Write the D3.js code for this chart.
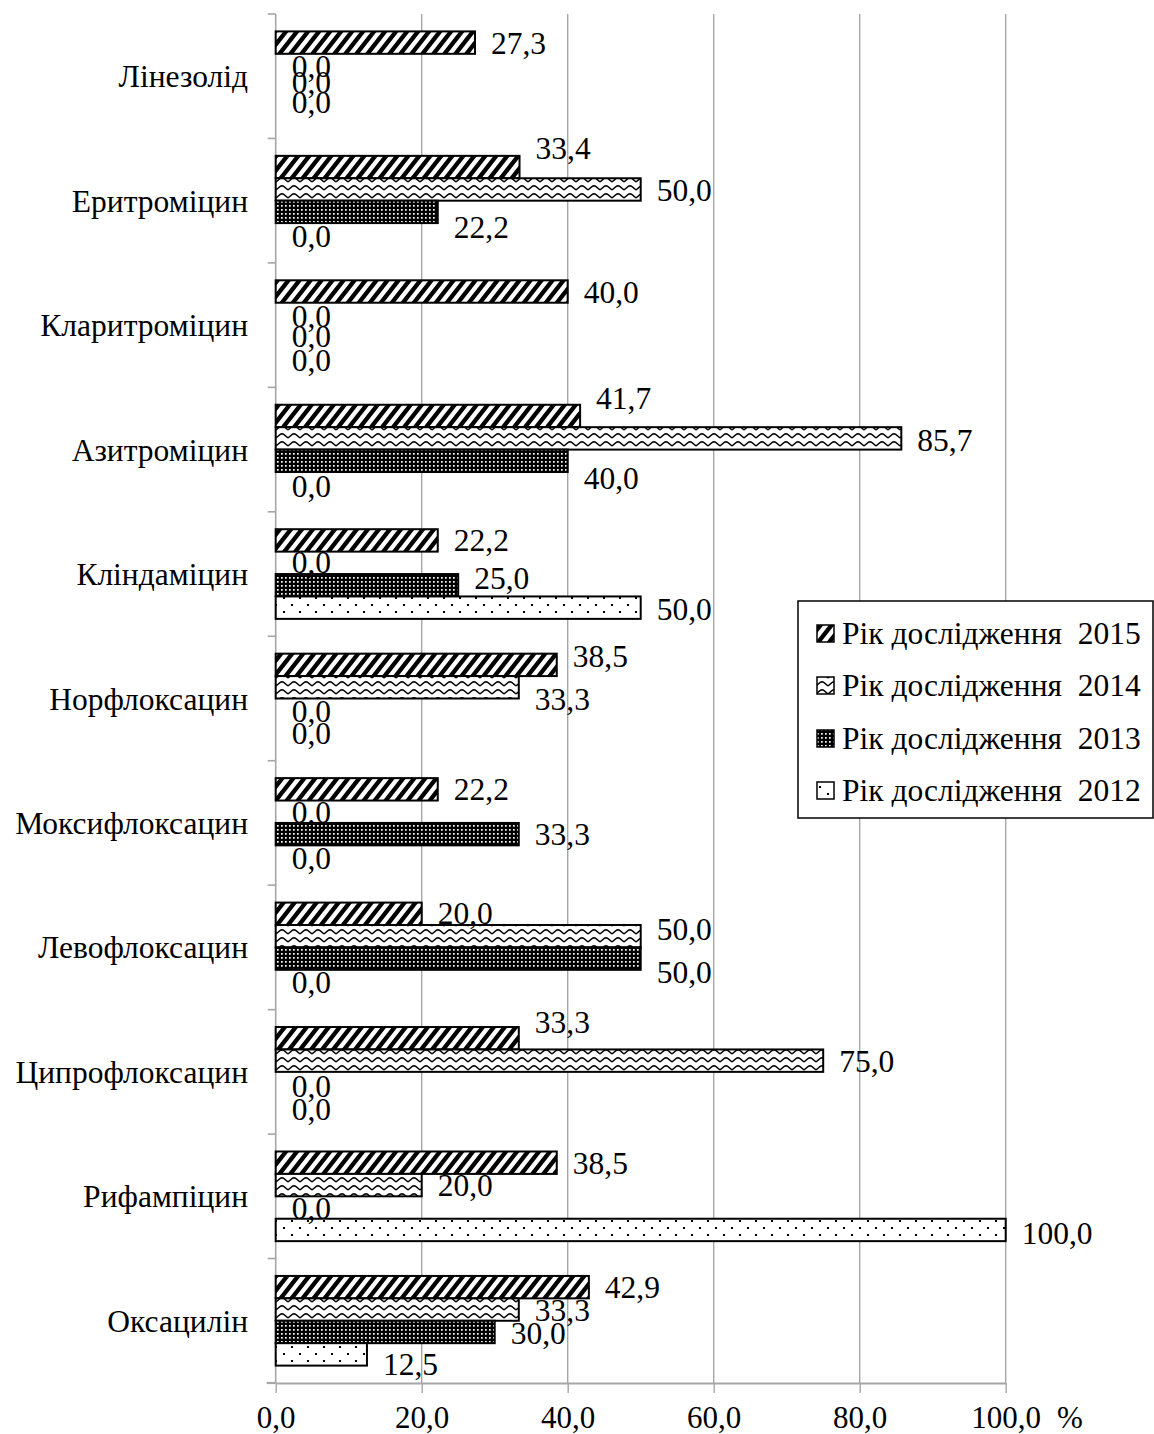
<!DOCTYPE html>
<html>
<head>
<meta charset="utf-8">
<script src="https://cdn.jsdelivr.net/npm/d3@7"></script>
<style>
  body { margin: 0; background: #fff; }
  svg { display: block; }
  text { font-family: "Liberation Serif", "Times New Roman", serif; fill: #000; }
</style>
</head>
<body>
<script>
// ---- data ----
const categories = ["Лінезолід","Еритроміцин","Кларитроміцин","Азитроміцин","Кліндаміцин",
  "Норфлоксацин","Моксифлоксацин","Левофлоксацин","Ципрофлоксацин","Рифампіцин","Оксацилін"];
const years = ["2015","2014","2013","2012"];
const values2015 = [27.3,33.4,40.0,41.7,22.2,38.5,22.2,20.0,33.3,38.5,42.9];
const values2014 = [0.0,50.0,0.0,85.7,0.0,33.3,0.0,50.0,75.0,20.0,33.3];
const values2013 = [0.0,22.2,0.0,40.0,25.0,0.0,33.3,50.0,0.0,0.0,30.0];
const values2012 = [0.0,0.0,0.0,0.0,50.0,0.0,0.0,0.0,0.0,100.0,12.5];
const tickValues = [0,20,40,60,80,100];
const tickLabels = ["0,0","20,0","40,0","60,0","80,0","100,0"];
const legendPrefix = "Рік дослідження  ";
const axisUnit = "%";

// label vertical nudges (layout only), per category: [2015,2014,2013,2012]
const labelNudge = [
  [0,1,-5,-8],[-19,0,15,2],[0,2,0,1],[-18,2,17,3],[0,-1,-7,1],
  [-9,12,1,1],[0,0,0,1],[-1,-7,13,1],[-16,0,3,3],[0,0,0,3],[0,0,1,10]
];

const seriesValues = {"2015": values2015, "2014": values2014, "2013": values2013, "2012": values2012};
const patternId = {"2015":"p2015","2014":"p2014","2013":"p2013","2012":"p2012"};

const W = 1154, H = 1434;
const FS = 31.5;
const svg = d3.select("body").append("svg").attr("width", W).attr("height", H);
svg.append("rect").attr("width", W).attr("height", H).attr("fill", "#fff");

// ---- patterns ----
const defs = svg.append("defs");
{
  const P = 11, Hh = 14, w = 5.5;
  const p = defs.append("pattern").attr("id","p2015").attr("patternUnits","userSpaceOnUse")
    .attr("width",P).attr("height",Hh);
  p.append("rect").attr("width",P).attr("height",Hh).attr("fill","#fff");
  p.append("polygon").attr("points",`0,${Hh} ${w},${Hh} ${P+w},0 ${P},0`).attr("fill","#000");
  p.append("polygon").attr("points",`${-P},${Hh} ${-P+w},${Hh} ${w},0 0,0`).attr("fill","#000");
}
{
  const p = defs.append("pattern").attr("id","p2014").attr("patternUnits","userSpaceOnUse")
    .attr("width",12).attr("height",8);
  p.append("rect").attr("width",12).attr("height",8).attr("fill","#fff");
  p.append("path").attr("d","M0,6 L4.5,2.2 L6,1.8 L7.5,2.2 L12,6").attr("fill","none")
    .attr("stroke","#000").attr("stroke-width",1.4);
}
{
  const p = defs.append("pattern").attr("id","p2013").attr("patternUnits","userSpaceOnUse")
    .attr("width",4).attr("height",4);
  p.append("rect").attr("width",4).attr("height",4).attr("fill","#000");
  p.append("rect").attr("x",1).attr("y",1).attr("width",1.7).attr("height",1.7).attr("fill","#fff");
}
{
  const p = defs.append("pattern").attr("id","p2012").attr("patternUnits","userSpaceOnUse")
    .attr("width",16).attr("height",14);
  p.append("rect").attr("width",16).attr("height",14).attr("fill","#fff");
  p.append("rect").attr("x",3).attr("y",2).attr("width",2).attr("height",2).attr("fill","#000");
  p.append("rect").attr("x",11).attr("y",9).attr("width",2).attr("height",2).attr("fill","#000");
}

// ---- scales ----
const x = d3.scaleLinear().domain([0,100]).range([275.7, 1005.7]);
const y = d3.scaleBand().domain(categories).range([14, 1383]).padding(0);
const padIn = 17.4;
const inner = d3.scaleBand().domain(years).range([padIn, y.bandwidth() - padIn]).padding(0);

const gridColor = "#a6a6a6";
const plotTop = y.range()[0], plotBottom = y.range()[1];

// gridlines
svg.append("g").selectAll("line").data(tickValues.filter(d => d > 0)).join("line")
  .attr("x1", d => x(d)).attr("x2", d => x(d))
  .attr("y1", plotTop).attr("y2", plotBottom)
  .attr("stroke", gridColor).attr("stroke-width", 1.4);

// left axis line + ticks at band boundaries
const bounds = categories.map(c => y(c)).concat([plotBottom]);
svg.append("line").attr("x1", x(0)).attr("x2", x(0)).attr("y1", plotTop).attr("y2", plotBottom)
  .attr("stroke", gridColor).attr("stroke-width", 1.6);
svg.append("g").selectAll("line").data(bounds).join("line")
  .attr("x1", x(0) - 8).attr("x2", x(0)).attr("y1", d => d).attr("y2", d => d)
  .attr("stroke", gridColor).attr("stroke-width", 1.6);

// bottom axis
const xAxis = d3.axisBottom(x).tickValues(tickValues)
  .tickFormat((d, i) => tickLabels[i]).tickSizeInner(10).tickSizeOuter(0);
const gx = svg.append("g").attr("transform", `translate(0,${plotBottom})`).call(xAxis);
gx.select(".domain").attr("stroke", gridColor).attr("stroke-width", 2.2);
gx.selectAll(".tick line").attr("stroke", gridColor).attr("stroke-width", 1.4);
gx.selectAll(".tick text").attr("y", 45).attr("dy", 0)
  .style("font-family", '"Liberation Serif", "Times New Roman", serif')
  .style("font-size", "31px").attr("fill", "#000");
svg.append("line").attr("x1", x(0) - 9).attr("x2", x(0)).attr("y1", plotBottom).attr("y2", plotBottom)
  .attr("stroke", gridColor).attr("stroke-width", 2.2);
svg.append("text").attr("x", 1057).attr("y", plotBottom + 45).attr("font-size", 31).text(axisUnit);

// category labels
svg.append("g").selectAll("text").data(categories).join("text")
  .attr("x", 248).attr("y", d => y(d) + y.bandwidth() / 2).attr("dy", "0.35em")
  .attr("text-anchor", "end").attr("font-size", FS).text(d => d);

// bars
years.forEach(yr => {
  const vals = seriesValues[yr];
  svg.append("g").selectAll("rect").data(categories.map((c, i) => ({c, v: vals[i]})).filter(d => d.v > 0))
    .join("rect")
    .attr("x", x(0)).attr("y", d => y(d.c) + inner(yr))
    .attr("width", d => x(d.v) - x(0)).attr("height", inner.bandwidth())
    .attr("fill", `url(#${patternId[yr]})`).attr("stroke", "#000").attr("stroke-width", 2);
});

// data labels
const fmt = v => d3.format(".1f")(v).replace(".", ",");
years.forEach((yr, si) => {
  const vals = seriesValues[yr];
  svg.append("g").selectAll("text").data(categories.map((c, i) => ({c, i, v: vals[i]})))
    .join("text")
    .attr("x", d => x(d.v) + 16)
    .attr("y", d => y(d.c) + inner(yr) + inner.bandwidth() / 2 + labelNudge[d.i][si])
    .attr("dy", "0.35em").attr("font-size", FS).text(d => fmt(d.v));
});

// legend
const lg = svg.append("g");
lg.append("rect").attr("x", 798).attr("y", 601).attr("width", 355).attr("height", 217)
  .attr("fill", "#fff").attr("stroke", "#000").attr("stroke-width", 1.5);
const legendY = [633, 685, 738, 790];
years.forEach((yr, i) => {
  lg.append("rect").attr("x", 817).attr("y", legendY[i] - 8).attr("width", 17).attr("height", 17)
    .attr("fill", `url(#${patternId[yr]})`).attr("stroke", "#000").attr("stroke-width", 1.5);
  lg.append("text").attr("x", 842).attr("y", legendY[i]).attr("dy", "0.35em")
    .attr("font-size", FS).style("white-space", "pre").text(legendPrefix + yr);
});
</script>
</body>
</html>
